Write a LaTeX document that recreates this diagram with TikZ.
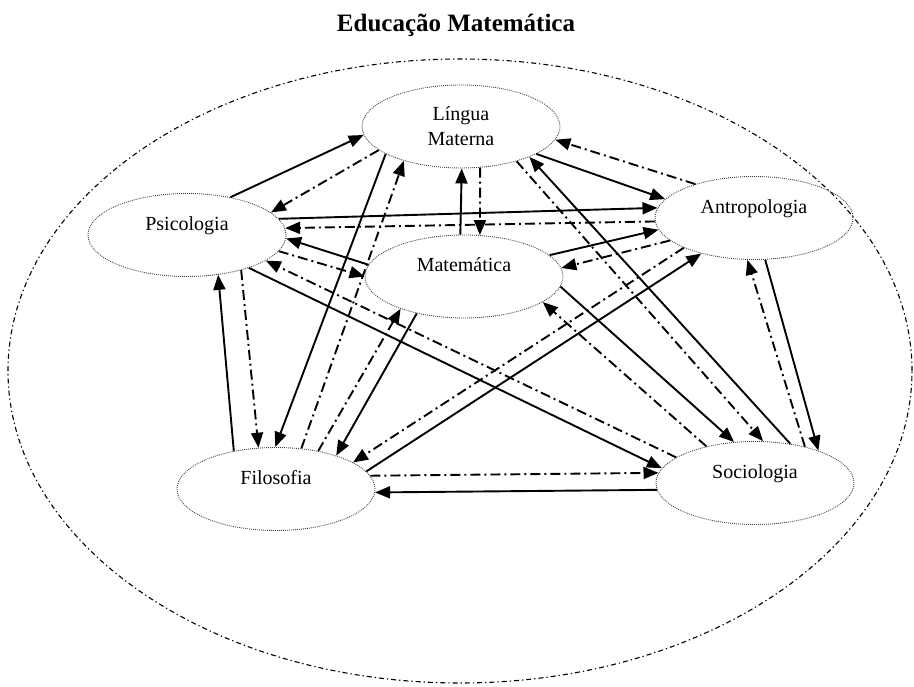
\documentclass[tikz,border=0pt]{standalone}
\usepackage{fontspec}
\setmainfont{Liberation Serif}
\usetikzlibrary{arrows.meta,shapes.geometric}
\begin{document}
\begin{tikzpicture}[x=1pt,y=1pt,
  ell/.style={ellipse, draw=black!75, dash pattern=on 0.9pt off 1.1pt, line width=0.9pt,
    minimum width=198pt, minimum height=83pt, inner sep=0pt, align=center,
    font=\fontsize{20}{25}\selectfont},
  one/.style={text height=14pt, text depth=23pt},
  sol/.style={line width=1.9pt, -{Triangle[length=15pt,width=12pt]}},
  dd/.style={sol, dash pattern=on 10pt off 4pt on 2pt off 4pt},
  outerell/.style={line width=1.1pt, dash pattern=on 5pt off 3pt on 1.3pt off 3pt},
  ttl/.style={font=\fontsize{25}{30}\selectfont\bfseries, anchor=base}]
\useasboundingbox (0,0) rectangle (914,687);
\node[ttl] (title) at (456,655) {Educação Matemática};
\draw[outerell] (460,316) ellipse [x radius=452, y radius=312];
\node[ell] (lin) at (461,560.5) {Língua\\Materna};
\node[ell,one] (psi) at (187,452) {Psicologia};
\node[ell,one] (mat) at (464,410.5) {Matemática};
\node[ell,one] (ant) at (754,469) {Antropologia};
\node[ell,one] (fil) at (276,198) {Filosofia};
\node[ell,one] (soc) at (755,204) {Sociologia};
% solid
\draw[sol] (psi.41) -- (lin.185);
\draw[sol] (lin.200) -- (fil.91);
\draw[sol] (fil.138) -- (psi.308);
\draw[sol] (psi.10) -- (ant.174);
\draw[sol] (mat.173) -- (psi.358);
\draw[sol] (psi.332) -- (soc.171);
\draw[sol] (mat.95) -- (lin.271);
\draw[sol] (lin.340) -- (ant.168);
\draw[sol] (soc.48) -- (lin.336);
\draw[sol] (mat.14) -- (ant.187);
\draw[sol] (mat.218) -- (fil.29);
\draw[sol] (mat.354) -- (soc.117);
\draw[sol] (fil.11) -- (ant.214);
\draw[sol] (soc.184) -- (fil.358);
\draw[sol] (ant.285) -- (soc.27);
% dash-dot
\draw[dd] (lin.196) -- (psi.15);
\draw[dd] (fil.58) -- (lin.211);
\draw[dd] (psi.327) -- (fil.113);
\draw[dd] (ant.182) -- (psi.4);
\draw[dd] (psi.350) -- (mat.180);
\draw[dd] (soc.162) -- (psi.342);
\draw[dd] (lin.295) -- (mat.69);
\draw[dd] (ant.150) -- (lin.352);
\draw[dd] (lin.328) -- (soc.79);
\draw[dd] (ant.195) -- (mat.5);
\draw[dd] (fil.42) -- (mat.207);
\draw[dd] (soc.143) -- (mat.342);
\draw[dd] (ant.203) -- (fil.19);
\draw[dd] (fil.8) -- (soc.174);
\draw[dd] (soc.36) -- (ant.261);
\end{tikzpicture}
\end{document}
